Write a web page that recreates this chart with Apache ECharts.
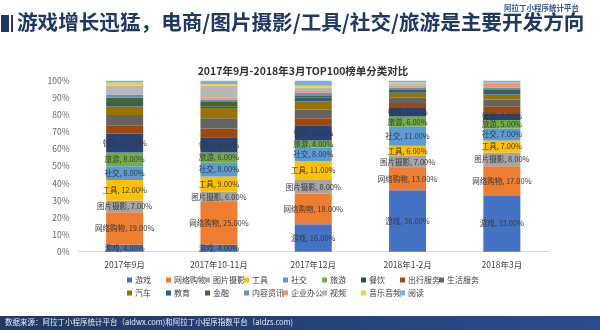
<!DOCTYPE html>
<html><head><meta charset="utf-8">
<script src="https://cdn.jsdelivr.net/npm/echarts@6/dist/echarts.min.js"></script>
<style>html,body{margin:0;padding:0;background:#fff}#c{width:600px;height:330px}</style>
</head><body><div id="c"></div>
<script>
const categories = ['2017年9月','2017年10-11月','2017年12月','2018年1-2月','2018年3月'];
const seriesNames = ['游戏','网络购物','图片摄影','工具','社交','旅游','餐饮','出行服务','生活服务','汽车','教育','金融','内容资讯','企业办公','视频','音乐音频','阅读'];
const youxi    = [4, 4, 16, 36, 33];
const wanggou  = [19, 25, 18, 13, 17];
const tupian   = [7, 6, 8, 7, 8];
const gongju   = [12, 9, 11, 6, 7];
const shejiao  = [8, 8, 8, 11, 7];
const lvyou    = [8, 6, 4, 6, 5];
const canyin   = [11, 9, 9, 5, 4];
const chuxing  = [5, 5, 4, 3, 4];
const shenghuo = [6, 6, 5, 3, 4];
const qiche    = [5, 6, 5, 3, 3];
const jiaoyu   = [2, 1, 2, 1, 2];
const jinrong  = [3, 3, 1, 1, 1];
const neirong  = [2, 1, 2, 1, 1];
const qiye     = [0, 1, 1, 1, 2];
const shipin   = [5, 7, 2, 1, 1];
const yinyue   = [2, 1, 1, 1, 0];
const yuedu    = [1, 2, 3, 1, 1];
const yTicks = [0, 10, 20, 30, 40, 50, 60, 70, 80, 90, 100];
const allValues = [youxi, wanggou, tupian, gongju, shejiao, lvyou, canyin, chuxing, shenghuo, qiche, jiaoyu, jinrong, neirong, qiye, shipin, yinyue, yuedu];
const colors = ['#4472C4','#ED7D31','#A5A5A5','#FFC000','#5B9BD5','#70AD47','#264478','#9E480E','#636363','#997300','#255E91','#43682B','#698ED0','#F1975A','#B7B7B7','#FFCD33','#7CAFDD'];
const labeled = 7;
const FONT = '"Noto Sans CJK SC", "Noto Sans", sans-serif';

const series = seriesNames.map((n, i) => ({
  name: n, type: 'bar', stack: 'all', barWidth: 37,
  data: allValues[i],
  itemStyle: { color: colors[i] },
  label: i < labeled ? {
    show: true, position: 'inside', fontSize: 7.5, color: '#3a3a3a', fontFamily: FONT,
    formatter: p => p.seriesName + ', ' + p.value.toFixed(2) + '%'
  } : { show: false }
}));

const perRow = 9;
const legends = seriesNames.map((n, i) => ({
  data: [n],
  left: 127 + (i % perRow) * 39,
  top: i < perRow ? 276 : 289,
  itemWidth: 5, itemHeight: 5, itemGap: 0, icon: 'rect', padding: 0,
  textStyle: { fontSize: 8, color: '#404040', fontFamily: FONT, padding: [0, 0, 0, -2] }
}));

const chart = echarts.init(document.getElementById('c'), null, { renderer: 'canvas' });
chart.setOption({
  animation: false,
  color: colors,
  textStyle: { fontFamily: FONT },
  grid: { left: 77.5, right: 51, top: 80.7, bottom: 78.3, containLabel: false },
  xAxis: {
    type: 'category', data: categories,
    axisLine: { lineStyle: { color: '#d9d9d9' } },
    axisTick: { show: false },
    axisLabel: { fontSize: 8.5, color: '#404040', margin: 9, fontFamily: FONT }
  },
  yAxis: {
    type: 'value', min: yTicks[0], max: yTicks[yTicks.length - 1], interval: 10,
    splitLine: { show: false }, axisLine: { show: false }, axisTick: { show: false },
    axisLabel: { fontSize: 8.5, color: '#666', margin: 8, formatter: '{value}%', fontFamily: FONT }
  },
  legend: legends,
  title: {
    text: '2017年9月-2018年3月TOP100榜单分类对比', left: 298, textAlign: 'center', top: 61,
    textStyle: { fontSize: 10.5, fontWeight: 'bold', color: '#333', fontFamily: FONT }
  },
  graphic: [
    { type: 'rect', shape: { x: 1, y: 15, width: 8, height: 17 }, style: { fill: '#1F3864' } },
    { type: 'rect', shape: { x: 11, y: 15, width: 2, height: 17 }, style: { fill: '#1F3864' } },
    { type: 'text', x: 17, y: 12, style: { text: '游戏增长迅猛，电商/图片摄影/工具/社交/旅游是主要开发方向', fill: '#1F3864', font: 'bold 20.6px ' + FONT } },
    { type: 'text', x: 504, y: 4, style: { text: '阿拉丁小程序统计平台', font: 'bold 7.5px ' + FONT, fill: '#2F5597' } },
    { type: 'rect', shape: { x: 0, y: 316, width: 600, height: 14 }, style: { fill: new echarts.graphic.LinearGradient(0, 0, 1, 0, [{ offset: 0, color: '#1F3864' }, { offset: 1, color: '#2B4C8C' }]) } },
    { type: 'text', x: 5, y: 318, style: { text: '数据来源：阿拉丁小程序统计平台（aldwx.com)和阿拉丁小程序指数平台（aldzs.com)', font: '7.5px ' + FONT, fill: '#E8ECF5' } }
  ],
  series: series
});
</script></body></html>
